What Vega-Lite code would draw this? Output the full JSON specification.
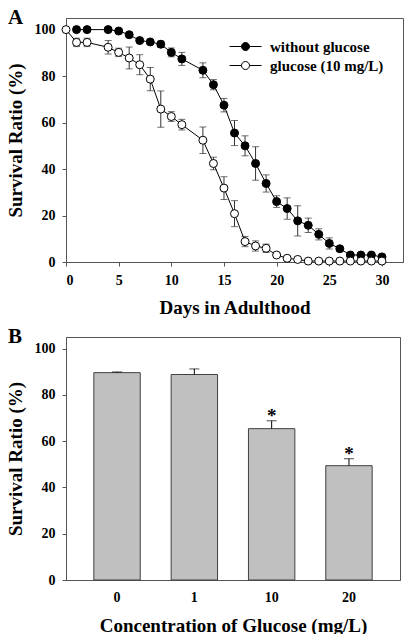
{
  "$schema": "https://vega.github.io/schema/vega-lite/v6.json",
  "background": "white",
  "padding": {"left": 5, "top": 6, "right": 5, "bottom": 0},
  "spacing": 7,
  "config": {
    "font": "Liberation Serif",
    "view": {"stroke": "#555555", "strokeWidth": 1},
    "axis": {
      "labelFont": "Liberation Serif", "labelFontWeight": "bold", "labelFontSize": 14, "labelColor": "black",
      "titleFont": "Liberation Serif", "titleFontWeight": "bold", "titleFontSize": 19, "titleColor": "black",
      "grid": false, "domainColor": "#555555", "tickColor": "#555555", "tickSize": 4, "labelPadding": 7, "titlePadding": 9
    },
    "title": {"font": "Liberation Serif", "fontSize": 21, "fontWeight": "bold", "color": "black", "anchor": "start", "frame": "bounds"}
  },
  "vconcat": [
    {
      "width": 337,
      "height": 244,
      "title": {"text": "A", "offset": -10, "dx": 2},
      "data": {"values": [
        {"series": "without glucose", "day": 1, "surv": 100, "err": 0},
        {"series": "without glucose", "day": 2, "surv": 100, "err": 0},
        {"series": "without glucose", "day": 4, "surv": 100, "err": 0},
        {"series": "without glucose", "day": 5, "surv": 99.4, "err": 0.5},
        {"series": "without glucose", "day": 6, "surv": 97.8, "err": 0.5},
        {"series": "without glucose", "day": 7, "surv": 95.3, "err": 0.5},
        {"series": "without glucose", "day": 8, "surv": 94.7, "err": 1},
        {"series": "without glucose", "day": 9, "surv": 93.7, "err": 1.4},
        {"series": "without glucose", "day": 10, "surv": 90.2, "err": 1.9},
        {"series": "without glucose", "day": 11, "surv": 87.4, "err": 2.8},
        {"series": "without glucose", "day": 13, "surv": 82.5, "err": 3.2},
        {"series": "without glucose", "day": 14, "surv": 76.3, "err": 2.2},
        {"series": "without glucose", "day": 15, "surv": 67.5, "err": 2.9},
        {"series": "without glucose", "day": 16, "surv": 55.5, "err": 5.4},
        {"series": "without glucose", "day": 17, "surv": 50.0, "err": 4.3},
        {"series": "without glucose", "day": 18, "surv": 42.4, "err": 7.2},
        {"series": "without glucose", "day": 19, "surv": 33.8, "err": 3.7},
        {"series": "without glucose", "day": 20, "surv": 26.0, "err": 2.5},
        {"series": "without glucose", "day": 21, "surv": 23.0, "err": 4.6},
        {"series": "without glucose", "day": 22, "surv": 17.7, "err": 6.5},
        {"series": "without glucose", "day": 23, "surv": 15.8, "err": 3.1},
        {"series": "without glucose", "day": 24, "surv": 11.9, "err": 2.4},
        {"series": "without glucose", "day": 25, "surv": 8.0, "err": 2.4},
        {"series": "without glucose", "day": 26, "surv": 5.7, "err": 1},
        {"series": "without glucose", "day": 27, "surv": 3.0, "err": 0.5},
        {"series": "without glucose", "day": 28, "surv": 3.0, "err": 0.5},
        {"series": "without glucose", "day": 29, "surv": 3.0, "err": 0.5},
        {"series": "without glucose", "day": 30, "surv": 2.2, "err": 0.5},
        {"series": "glucose (10 mg/L)", "day": 0, "surv": 100, "err": 0},
        {"series": "glucose (10 mg/L)", "day": 1, "surv": 94.5, "err": 1.8},
        {"series": "glucose (10 mg/L)", "day": 2, "surv": 94.5, "err": 1.8},
        {"series": "glucose (10 mg/L)", "day": 4, "surv": 92.4, "err": 2.9},
        {"series": "glucose (10 mg/L)", "day": 5, "surv": 90.2, "err": 1.8},
        {"series": "glucose (10 mg/L)", "day": 6, "surv": 87.8, "err": 4.7},
        {"series": "glucose (10 mg/L)", "day": 7, "surv": 84.9, "err": 4.3},
        {"series": "glucose (10 mg/L)", "day": 8, "surv": 78.7, "err": 5.0},
        {"series": "glucose (10 mg/L)", "day": 9, "surv": 65.8, "err": 7.8},
        {"series": "glucose (10 mg/L)", "day": 10, "surv": 62.6, "err": 2.1},
        {"series": "glucose (10 mg/L)", "day": 11, "surv": 59.1, "err": 2.3},
        {"series": "glucose (10 mg/L)", "day": 13, "surv": 52.4, "err": 5.7},
        {"series": "glucose (10 mg/L)", "day": 14, "surv": 42.4, "err": 2.7},
        {"series": "glucose (10 mg/L)", "day": 15, "surv": 31.8, "err": 4.9},
        {"series": "glucose (10 mg/L)", "day": 16, "surv": 20.8, "err": 5.6},
        {"series": "glucose (10 mg/L)", "day": 17, "surv": 8.8, "err": 2.2},
        {"series": "glucose (10 mg/L)", "day": 18, "surv": 6.9, "err": 2.2},
        {"series": "glucose (10 mg/L)", "day": 19, "surv": 5.9, "err": 1.8},
        {"series": "glucose (10 mg/L)", "day": 20, "surv": 3.0, "err": 1},
        {"series": "glucose (10 mg/L)", "day": 21, "surv": 1.6, "err": 0.5},
        {"series": "glucose (10 mg/L)", "day": 22, "surv": 1.1, "err": 0.5},
        {"series": "glucose (10 mg/L)", "day": 23, "surv": 0.4, "err": 0.3},
        {"series": "glucose (10 mg/L)", "day": 24, "surv": 0.4, "err": 0.3},
        {"series": "glucose (10 mg/L)", "day": 25, "surv": 0.4, "err": 0.3},
        {"series": "glucose (10 mg/L)", "day": 26, "surv": 0.4, "err": 0.3},
        {"series": "glucose (10 mg/L)", "day": 27, "surv": 0.4, "err": 0.3},
        {"series": "glucose (10 mg/L)", "day": 28, "surv": 0.4, "err": 0.3},
        {"series": "glucose (10 mg/L)", "day": 29, "surv": 0.4, "err": 0.3},
        {"series": "glucose (10 mg/L)", "day": 30, "surv": 0.4, "err": 0.3}
      ]},
      "encoding": {
        "x": {"field": "day", "type": "quantitative", "scale": {"domain": [0, 32], "nice": false},
              "axis": {"values": [0, 5, 10, 15, 20, 25, 30], "title": "Days in Adulthood", "titlePadding": 11}},
        "y": {"field": "surv", "type": "quantitative", "scale": {"domain": [0, 105], "nice": false},
              "axis": {"values": [0, 20, 40, 60, 80, 100], "title": "Survival Ratio (%)"}}
      },
      "layer": [
        {
          "mark": {"type": "errorbar", "ticks": {"size": 7, "color": "#333333"}, "rule": {"color": "#333333"}, "thickness": 1},
          "encoding": {"yError": {"field": "err"}}
        },
        {
          "mark": {"type": "line", "color": "black", "strokeWidth": 1},
          "encoding": {"detail": {"field": "series"}}
        },
        {
          "mark": {"type": "point", "shape": "circle", "filled": true, "stroke": "black", "strokeWidth": 1, "size": 64, "opacity": 1},
          "encoding": {
            "fill": {"field": "series", "type": "nominal",
                     "scale": {"domain": ["without glucose", "glucose (10 mg/L)"], "range": ["black", "white"]},
                     "legend": {
                       "title": null, "orient": "none", "legendX": 172, "legendY": 21, "padding": 0,
                       "symbolType": "M -4 0 L -1 0 M 1 0 L 4 0 M 1 0 A 1 1 0 1 1 -1 0 A 1 1 0 1 1 1 0 Z",
                       "symbolSize": 64, "symbolStrokeColor": "black", "symbolStrokeWidth": 1, "symbolOpacity": 1,
                       "labelFont": "Liberation Serif", "labelFontWeight": "bold", "labelFontSize": 15, "labelColor": "black",
                       "labelOffset": 17, "rowPadding": 3
                     }}
          }
        }
      ]
    },
    {
      "width": 334,
      "height": 243,
      "title": {"text": "B", "offset": -10, "dx": 2},
      "data": {"values": [
        {"conc": "0", "surv": 89.6, "top": 89.9, "sig": ""},
        {"conc": "1", "surv": 88.8, "top": 91.2, "sig": ""},
        {"conc": "10", "surv": 65.4, "top": 68.8, "sig": "*"},
        {"conc": "20", "surv": 49.4, "top": 52.4, "sig": "*"}
      ]},
      "encoding": {
        "x": {"field": "conc", "type": "ordinal", "sort": null,
              "scale": {"paddingInner": 0.4, "paddingOuter": 0.36},
              "axis": {"labelAngle": 0, "ticks": false, "labelPadding": 10, "title": "Concentration of Glucose (mg/L)", "titlePadding": 12}}
      },
      "layer": [
        {
          "mark": {"type": "bar", "fill": "#c0c0c0", "stroke": "#404040", "strokeWidth": 1},
          "encoding": {"y": {"field": "surv", "type": "quantitative", "scale": {"domain": [0, 105], "nice": false},
                             "axis": {"values": [0, 20, 40, 60, 80, 100], "title": "Survival Ratio (%)"}}}
        },
        {
          "mark": {"type": "rule", "color": "black", "strokeWidth": 1},
          "encoding": {"y": {"field": "surv", "type": "quantitative"}, "y2": {"field": "top"}}
        },
        {
          "mark": {"type": "tick", "orient": "horizontal", "size": 10, "thickness": 1, "color": "black"},
          "encoding": {"y": {"field": "top", "type": "quantitative"}}
        },
        {
          "mark": {"type": "text", "baseline": "alphabetic", "dy": 1, "fontSize": 19, "fontWeight": "bold", "font": "Liberation Serif", "color": "black"},
          "encoding": {"y": {"field": "top", "type": "quantitative"}, "text": {"field": "sig"}}
        }
      ]
    }
  ]
}
